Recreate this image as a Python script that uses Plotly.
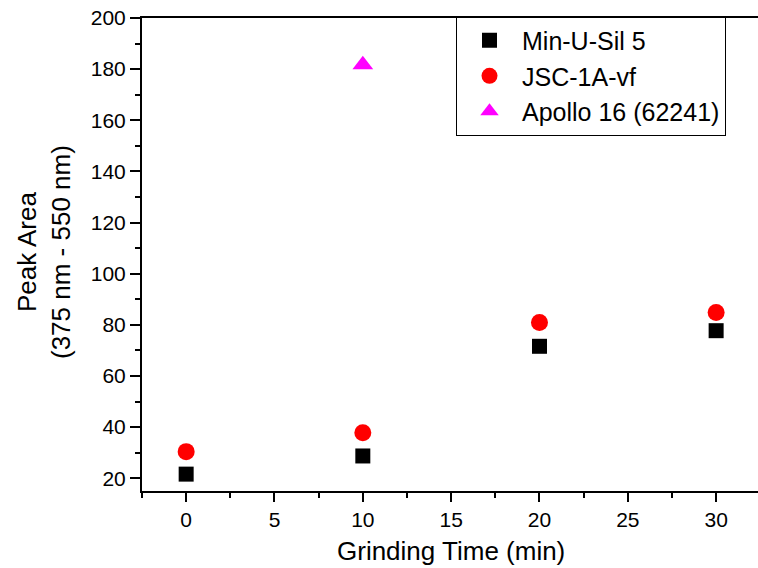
import plotly.graph_objects as go

grinding_time = [0, 10, 20, 30]
min_u_sil = [21.6, 28.7, 71.6, 77.7]
jsc_1a_vf = [30.4, 37.8, 80.9, 84.8]
apollo_x = [10]
apollo_y = [181.7]

FONT = "Liberation Sans, Arial, sans-serif"

fig = go.Figure()
fig.add_trace(go.Scatter(x=grinding_time, y=min_u_sil, mode="markers", name="Min-U-Sil 5",
                         marker=dict(symbol="square", size=15, color="black")))
fig.add_trace(go.Scatter(x=grinding_time, y=jsc_1a_vf, mode="markers", name="JSC-1A-vf",
                         marker=dict(symbol="circle", size=17, color="#FF0000")))
fig.add_trace(go.Scatter(x=apollo_x, y=apollo_y, mode="markers", name="Apollo 16 (62241)",
                         marker=dict(symbol="triangle-up", size=18, color="#FF00FF")))

L, T, R, B = 142, 18, 0, 77
fig.update_layout(
    width=758, height=568,
    margin=dict(l=L, r=R, t=T, b=B, autoexpand=False),
    paper_bgcolor="white", plot_bgcolor="white",
    font=dict(family=FONT, size=20, color="black"),
    showlegend=True,
    legend=dict(x=(456 - L) / (758 - L - R), y=1.003, xanchor="left", yanchor="top",
                bgcolor="white", bordercolor="black", borderwidth=1,
                font=dict(size=25, family=FONT, color="black"),
                itemsizing="trace", tracegroupgap=0, itemwidth=55,
                entrywidth=300, entrywidthmode="pixels"),
)
fig.update_xaxes(
    range=[-2.5, 32.37], showgrid=False, zeroline=False,
    showline=True, linecolor="black", linewidth=2, mirror=True,
    ticks="outside", ticklen=9, tickwidth=2, tickcolor="black",
    tickvals=[0, 5, 10, 15, 20, 25, 30],
    tickfont=dict(size=21, family=FONT, color="black"),
    minor=dict(ticks="outside", ticklen=5, tickwidth=2, tickcolor="black", dtick=2.5, tick0=0),
)
fig.update_yaxes(
    range=[15, 200], showgrid=False, zeroline=False,
    showline=True, linecolor="black", linewidth=2,
    ticks="outside", ticklen=10, tickwidth=2, tickcolor="black",
    tickvals=[20, 40, 60, 80, 100, 120, 140, 160, 180, 200],
    tickfont=dict(size=21, family=FONT, color="black"),
    minor=dict(ticks="outside", ticklen=5, tickwidth=2, tickcolor="black", dtick=10, tick0=0),
)
fig.add_annotation(text="Grinding Time (min)", xref="paper", yref="paper",
                   x=(451 - L) / (758 - L - R), y=0, yshift=-60, xanchor="center", yanchor="middle",
                   showarrow=False, font=dict(size=26, family=FONT, color="black"))
fig.add_annotation(text="Peak Area<br>(375 nm - 550 nm)", xref="paper", yref="paper",
                   x=0, xshift=-(L - 44), y=(491 - 252) / (491 - 18), xanchor="center", yanchor="middle",
                   textangle=-90, showarrow=False, font=dict(size=26, family=FONT, color="black"))
fig.write_html("out.html")
